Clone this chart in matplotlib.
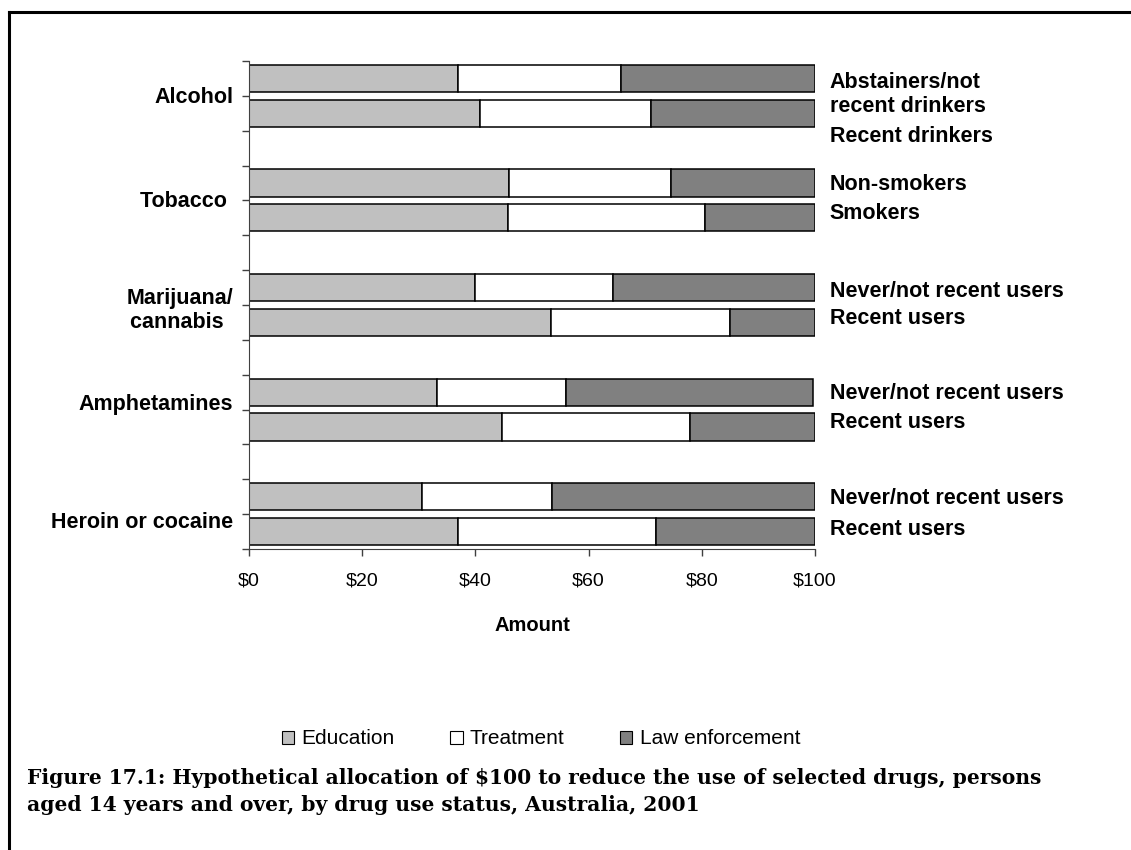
import numpy as np
import matplotlib
matplotlib.use('Agg')
import matplotlib.pyplot as plt
from matplotlib.lines import Line2D
from matplotlib.patches import Patch
from matplotlib.ticker import FuncFormatter

plt.rcParams['font.family'] = ['Liberation Sans', 'DejaVu Sans']

drugs = ['Alcohol', 'Tobacco ', 'Marijuana/\ncannabis ', 'Amphetamines', 'Heroin or cocaine']
status = ['Abstainers/not\nrecent drinkers', 'Recent drinkers',
          'Non-smokers', 'Smokers',
          'Never/not recent users', 'Recent users',
          'Never/not recent users', 'Recent users',
          'Never/not recent users', 'Recent users']
education = [37.0, 40.9, 46.0, 45.7, 40.0, 53.4, 33.3, 44.7, 30.5, 37.0]
treatment = [28.7, 30.1, 28.6, 34.9, 24.3, 31.5, 22.7, 33.2, 23.1, 34.9]
law = [34.3, 29.0, 25.4, 19.4, 35.7, 15.1, 43.7, 22.1, 46.4, 28.1]
series = ['Education', 'Treatment', 'Law enforcement']
colors = ['#c0c0c0', '#ffffff', '#808080']

fig = plt.figure(figsize=(11.31, 8.5), dpi=100)
ax = fig.add_axes([249 / 1131, 1 - 549 / 850, 566 / 1131, 488 / 850])

# two bars per drug, one empty slot between drugs
pos = np.array([3 * (i // 2) + i % 2 for i in range(len(status))])
left = np.zeros(len(status))
for vals, c in zip([education, treatment, law], colors):
    ax.barh(pos, vals, left=left, height=0.78, color=c, edgecolor='black', linewidth=1.1)
    left += np.array(vals)

ax.set_xlim(0, 100)
ax.set_ylim(13.5, -0.5)
ax.set_xticks(np.arange(0, 101, 20))
ax.xaxis.set_major_formatter(FuncFormatter(lambda v, p: '$%d' % v))
ax.set_yticks(np.arange(-0.5, 13.6, 1))
ax.set_yticklabels([])
ax.tick_params(axis='both', direction='out', length=5, width=1, color='#404040')
ax.tick_params(axis='x', labelsize=14, pad=12)
for s in ['top', 'right']:
    ax.spines[s].set_visible(False)
ax.spines['left'].set_color('#404040')
ax.spines['bottom'].set_color('#404040')
ax.set_xlabel('Amount', fontsize=14.5, fontweight='bold', labelpad=19)

# drug names on the left
loff = [0.06, 0.02, 0.16, -0.14, 0.25]
for g, name in enumerate(drugs):
    ax.text(-2.8, 3 * g + 0.5 + loff[g], name, ha='right', va='center', fontsize=15.5,
            fontweight='bold', multialignment='center', linespacing=1.15)

# status labels on the right
yoff = [0.46, 0.68, 0.03, -0.12, 0.1, -0.1, 0.03, -0.12, 0.06, -0.05]
for i, lab in enumerate(status):
    ax.text(102.6, pos[i] + yoff[i], lab, ha='left', va='center', fontsize=15.5,
            fontweight='bold', linespacing=1.15, clip_on=False)

handles = [Patch(facecolor=c, edgecolor='black', linewidth=0.8) for c in colors]
fig.legend(handles, series, loc='center', bbox_to_anchor=(541 / 1131, 1 - 739 / 850),
           ncol=3, frameon=False, handlelength=0.6, handleheight=0.6,
           handletextpad=0.35, columnspacing=2.65,
           prop={'family': ['Liberation Sans Narrow', 'Liberation Sans'], 'size': 15})

fig.text(27 / 1131, 1 - 778 / 850,
         'Figure 17.1: Hypothetical allocation of $100 to reduce the use of selected drugs, persons',
         ha='left', va='center', fontsize=14.6, fontweight='bold', family='DejaVu Serif')
fig.text(27 / 1131, 1 - 805 / 850,
         'aged 14 years and over, by drug use status, Australia, 2001',
         ha='left', va='center', fontsize=14.6, fontweight='bold', family='DejaVu Serif')

# frame around the figure (top and left edges)
fig.add_artist(Line2D([9 / 1131, 9 / 1131], [0, 1 - 12 / 850], transform=fig.transFigure,
                      color='black', linewidth=2.2))
fig.add_artist(Line2D([9 / 1131, 1], [1 - 12 / 850, 1 - 12 / 850], transform=fig.transFigure,
                      color='black', linewidth=2.2))

fig.savefig('out.png', dpi=100)
